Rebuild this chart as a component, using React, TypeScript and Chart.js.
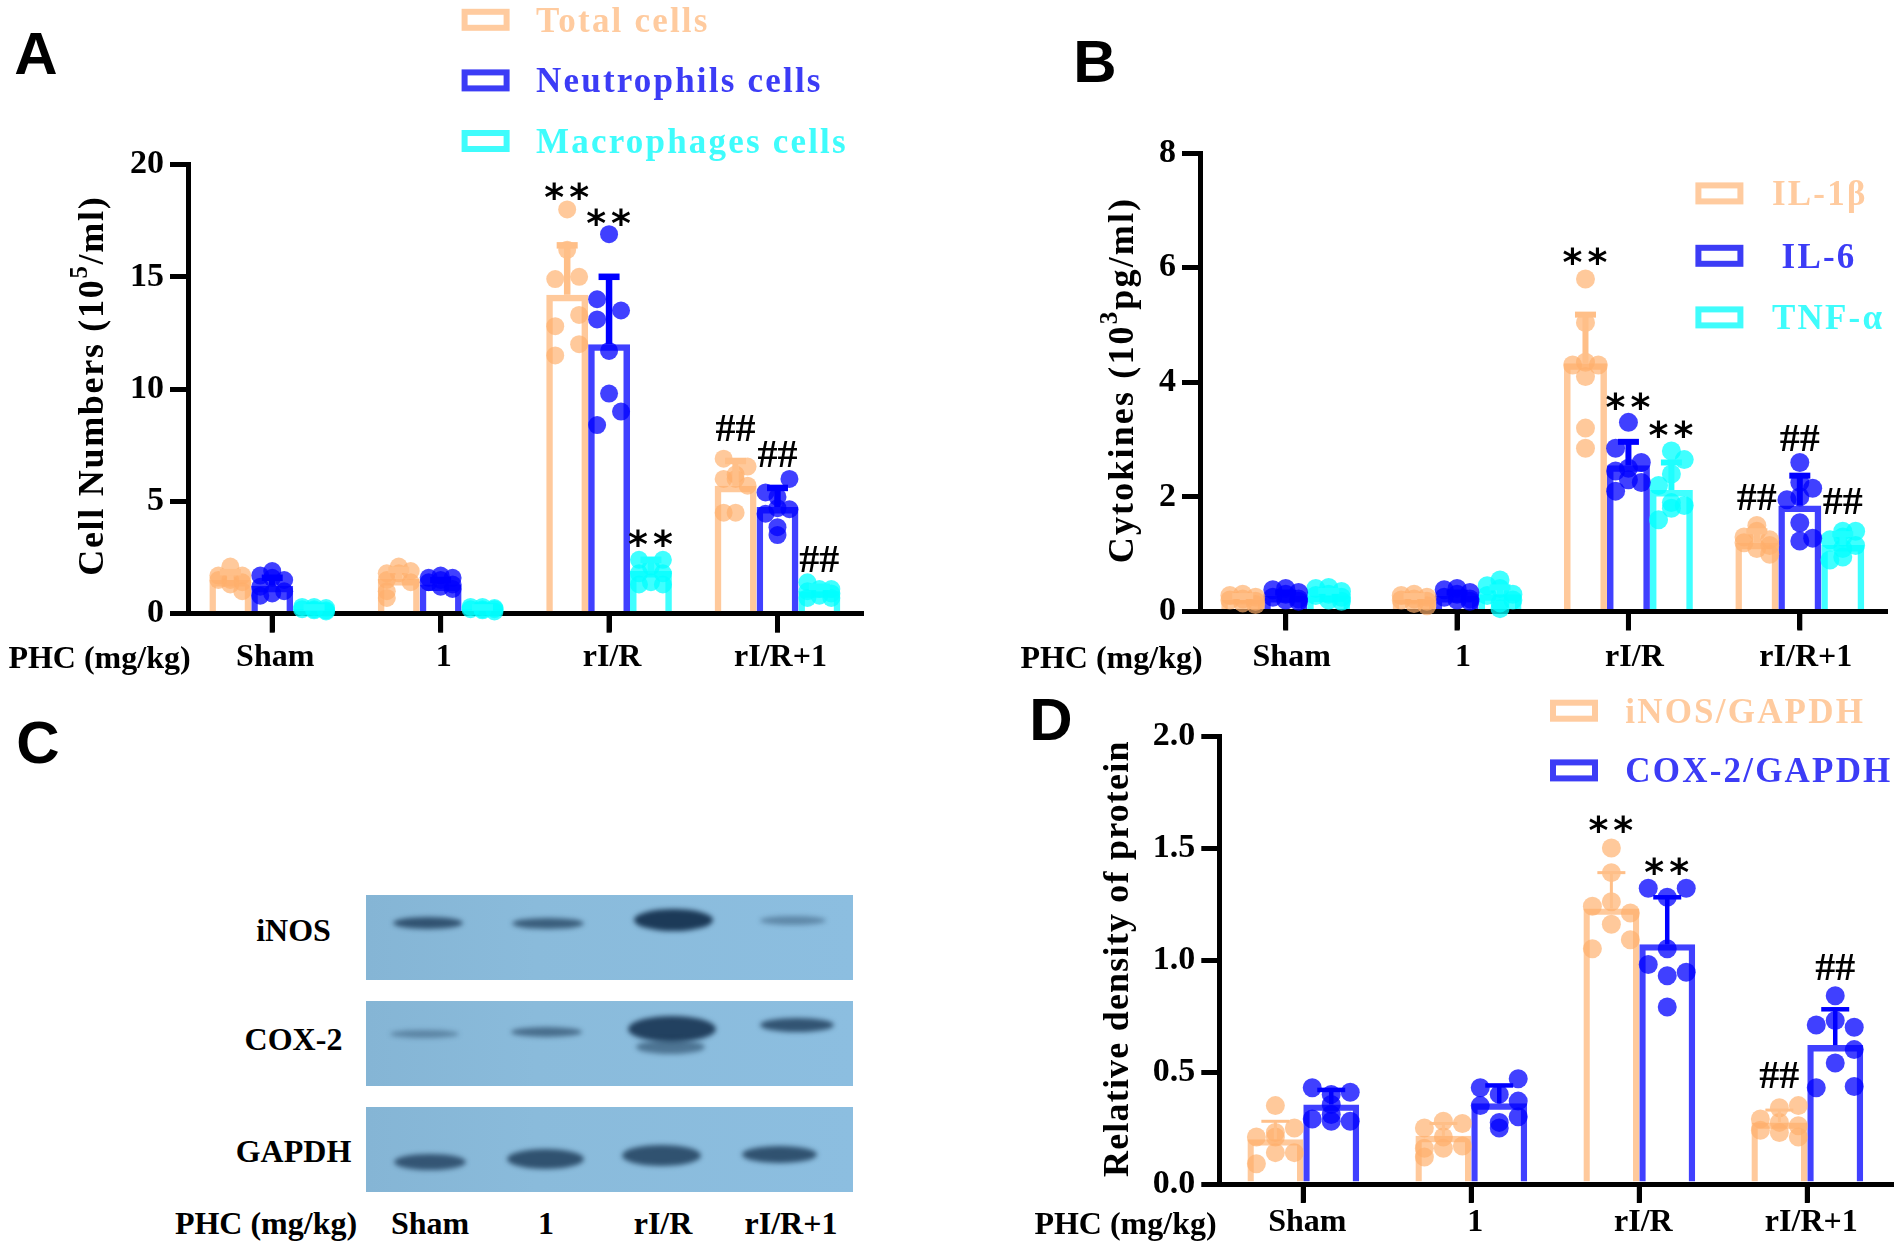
import { useEffect, useRef } from "react";
import { Chart, registerables } from "chart.js";

Chart.register(...registerables);

const SERIF = '"Liberation Serif"';
const ORANGE = "rgba(255,176,108,0.68)";
const BLUE = "rgba(0,0,255,0.75)";
const CYAN = "rgba(0,255,255,0.75)";
const ORANGE_TEXT = "#ffcb9f";
const BLUE_TEXT = "#3c3cf6";
const CYAN_TEXT = "#3ffcfc";
const ORANGE_ERR = "#ffbf88";
const BLUE_ERR = "#0000ff";
const CYAN_ERR = "#1effff";

const groups = ["Sham", "1", "rI/R", "rI/R+1"];
const looseLanes = [0, -1, 1, 0, -1, 1, 0, 1];

// Panel A, 10^5 cells per ml
const totalMean = [1.5, 1.55, 14.2, 5.7];
const totalUpper = [1.85, 1.95, 16.4, 6.8];
const totalPoints = [
  [2.1, 1.7, 1.7, 1.5, 1.5, 1.4, 1.3, 1.0],
  [2.1, 1.8, 1.9, 1.8, 1.5, 1.4, 1.0, 0.7],
  [18.0, 16.2, 14.9, 15.0, 13.3, 12.8, 12.0, 11.5],
  [6.9, 6.55, 6.0, 6.2, 5.7, 6.0, 4.5, 4.5],
];
const totalLanes = [looseLanes, [0, -1, 1, 0, -1, 1, -1, -1], [0, 0, -1, 1, 1, -1, 1, -1], [-1, 1, -1, 0, 1, 0, -1, 0]];
const neutroMean = [1.25, 1.3, 12.0, 4.75];
const neutroUpper = [1.6, 1.5, 15.0, 5.6];
const neutroPoints = [
  [1.9, 1.7, 1.6, 1.5, 1.2, 1.0, 0.9, 0.8],
  [1.7, 1.6, 1.6, 1.5, 1.4, 1.3, 1.2, 1.1],
  [16.9, 14.0, 13.5, 13.1, 11.7, 9.8, 9.0, 8.4],
  [6.0, 5.4, 5.2, 4.65, 4.45, 4.7, 3.85, 3.5],
];
const neutroLanes = [[0, -1, 0, 1, -1, 1, 0, -1], looseLanes, [0, -1, 1, -1, 0, 0, 1, -1], [1, -1, 0, 1, -1, 0, 0, 0]];
const macroMean = [0.2, 0.2, 1.9, 1.0];
const macroUpper = [0.28, 0.28, 2.4, 1.2];
const macroPoints = [
  [0.3, 0.3, 0.25, 0.2, 0.2, 0.15, 0.15, 0.1],
  [0.3, 0.3, 0.25, 0.2, 0.2, 0.2, 0.15, 0.1],
  [2.4, 2.4, 2.1, 1.8, 1.8, 1.4, 1.3, 1.3],
  [1.4, 1.1, 1.1, 1.0, 0.9, 0.8, 0.7, 0.7],
];
const macroLanes = [looseLanes, looseLanes, [-1, 1, 0, -1, 1, 0, -1, 1], [-1, 0, 1, -1, 1, 0, -1, 1]];

// Panel B, 10^3 pg per ml
const il1Mean = [0.2, 0.2, 4.33, 1.2];
const il1Upper = [0.27, 0.27, 5.18, 1.4];
const il1Points = [
  [0.3, 0.28, 0.25, 0.22, 0.2, 0.18, 0.15, 0.12],
  [0.3, 0.28, 0.25, 0.22, 0.2, 0.18, 0.14, 0.1],
  [5.8, 5.04, 4.3, 4.35, 4.3, 4.1, 3.2, 2.85],
  [1.5, 1.4, 1.3, 1.25, 1.2, 1.15, 1.1, 1.0],
];
const il1Lanes = [looseLanes, looseLanes, [0, 0, -1, 0, 1, 0, 0, 0], [0, 0, -1, 1, -1, 1, 0, 1]];
const il6Mean = [0.27, 0.27, 2.55, 1.85];
const il6Upper = [0.33, 0.33, 2.96, 2.37];
const il6Points = [
  [0.4, 0.38, 0.33, 0.3, 0.25, 0.22, 0.2, 0.18],
  [0.4, 0.38, 0.33, 0.3, 0.25, 0.22, 0.2, 0.18],
  [3.3, 2.85, 2.6, 2.5, 2.45, 2.3, 2.25, 2.1],
  [2.6, 2.25, 2.15, 2.0, 1.95, 1.55, 1.28, 1.23],
];
const il6Lanes = [looseLanes, looseLanes, [0, -1, 1, 0, -1, 0, 1, -1], [0, 0, 1, 0, -1, 0, 1, 0]];
const tnfMean = [0.28, 0.3, 2.12, 1.16];
const tnfUpper = [0.36, 0.42, 2.6, 1.35];
const tnfPoints = [
  [0.42, 0.4, 0.35, 0.3, 0.28, 0.25, 0.2, 0.18],
  [0.55, 0.45, 0.4, 0.3, 0.28, 0.2, 0.15, 0.05],
  [2.8, 2.65, 2.4, 2.2, 1.9, 1.85, 1.8, 1.6],
  [1.4, 1.4, 1.3, 1.25, 1.15, 1.1, 0.95, 0.9],
];
const tnfLanes = [looseLanes, [0, -1, 0, 1, -1, 1, 0, 0], [0, 1, 0, -1, 0, 1, 0, -1], [0, 1, 0, -1, 1, 0, 0, -1]];

// Panel D, relative density
const inosMean = [0.2, 0.215, 1.23, 0.275];
const inosUpper = [0.28, 0.27, 1.39, 0.33];
const inosPoints = [
  [0.35, 0.25, 0.23, 0.21, 0.21, 0.14, 0.14, 0.09],
  [0.28, 0.27, 0.25, 0.21, 0.17, 0.16, 0.16, 0.12],
  [1.5, 1.39, 1.26, 1.24, 1.21, 1.16, 1.09, 1.05],
  [0.35, 0.34, 0.29, 0.275, 0.26, 0.24, 0.23, 0.21],
];
const inosLanes = [[0, 1, 0, -1, 0, 1, 0, -1], [0, 1, -1, 0, 1, -1, 0, -1], [0, 0, 0, -1, 1, 0, 1, -1], [1, 0, -1, 0, 1, -1, 0, 1]];
const coxMean = [0.355, 0.36, 1.07, 0.62];
const coxUpper = [0.42, 0.44, 1.28, 0.78];
const coxPoints = [
  [0.43, 0.41, 0.4, 0.355, 0.31, 0.29, 0.28, 0.28],
  [0.47, 0.43, 0.4, 0.37, 0.35, 0.3, 0.275, 0.25],
  [1.32, 1.32, 1.28, 1.05, 0.98, 0.945, 0.93, 0.79],
  [0.84, 0.73, 0.71, 0.7, 0.6, 0.54, 0.435, 0.43],
];
const coxLanes = [[-1, 1, 0, 0, 0, -1, 0, 1], [1, -1, 0, 1, -1, 1, 0, 0], [-1, 1, 0, 0, -1, 1, 0, 0], [0, 0, -1, 1, 1, 0, 1, -1]];

// significance marks: [series, group, height on the value axis, text]
const marksA = [
  [0, 2, 18.8, "**"],
  [1, 2, 17.65, "**"],
  [2, 2, 3.37, "**"],
  [0, 3, 8.27, "##"],
  [1, 3, 7.13, "##"],
  [2, 3, 2.43, "##"],
];
const marksB = [
  [0, 2, 6.2, "**"],
  [1, 2, 3.68, "**"],
  [2, 2, 3.18, "**"],
  [0, 3, 2.0, "##"],
  [1, 3, 3.02, "##"],
  [2, 3, 1.93, "##"],
];
const marksD = [
  [0, 2, 1.605, "**"],
  [1, 2, 1.42, "**"],
  [0, 3, 0.486, "##"],
  [1, 3, 0.97, "##"],
];

const panels = [
  {
    left: 0, top: 0, width: 960, height: 680,
    plotLeft: 188, plotRight: 861.7, plotTop: 164.5, plotBottom: 613.7,
    groupWidth: 0.746, laneStep: 0.071, radius: 9, errWidth: 6.5, capWidth: 21, barBorder: 6.5,
    yMax: 20, yStep: 5, decimals: 0, labelOffset: 3, tickPad: 7,
    title: ["Cell Numbers (10", "5", "/ml)"], titleX: 93.7, titleY: 385.7, titleSpacing: 1.7,
    marks: marksA,
    series: [
      { label: "Total cells", mean: totalMean, upper: totalUpper, points: totalPoints, lanes: totalLanes, color: ORANGE, err: ORANGE_ERR, text: ORANGE_TEXT },
      { label: "Neutrophils cells", mean: neutroMean, upper: neutroUpper, points: neutroPoints, lanes: neutroLanes, color: BLUE, err: BLUE_ERR, text: BLUE_TEXT },
      { label: "Macrophages cells", mean: macroMean, upper: macroUpper, points: macroPoints, lanes: macroLanes, color: CYAN, err: CYAN_ERR, text: CYAN_TEXT },
    ],
    legend: { swatchX: 461.6, textX: [536, 536, 536], ys: [19.8, 80.4, 141] },
  },
  {
    left: 960, top: 0, width: 942, height: 680,
    plotLeft: 1200, plotRight: 1885.5, plotTop: 153, plotBottom: 611.5,
    groupWidth: 0.752, laneStep: 0.075, radius: 9.5, errWidth: 6, capWidth: 21, barBorder: 6.5,
    yMax: 8, yStep: 2, decimals: 0, labelOffset: 6, tickPad: 9.3,
    title: ["Cytokines (10", "3", "pg/ml)"], titleX: 1123.6, titleY: 380, titleSpacing: 2.15,
    marks: marksB,
    series: [
      { label: "IL-1β", mean: il1Mean, upper: il1Upper, points: il1Points, lanes: il1Lanes, color: ORANGE, err: ORANGE_ERR, text: ORANGE_TEXT },
      { label: "IL-6", mean: il6Mean, upper: il6Upper, points: il6Points, lanes: il6Lanes, color: BLUE, err: BLUE_ERR, text: BLUE_TEXT },
      { label: "TNF-α", mean: tnfMean, upper: tnfUpper, points: tnfPoints, lanes: tnfLanes, color: CYAN, err: CYAN_ERR, text: CYAN_TEXT },
    ],
    legend: { swatchX: 1695.4, textX: [1772, 1781.6, 1772], ys: [193.4, 255.8, 317.4] },
  },
  {
    left: 960, top: 690, width: 942, height: 560,
    plotLeft: 1219.3, plotRight: 1891.3, plotTop: 736, plotBottom: 1184,
    groupWidth: 0.665, laneStep: 0.113, radius: 9.5, errWidth: 4.5, capWidth: 28, barBorder: 6.3,
    yMax: 2, yStep: 0.5, decimals: 1, labelOffset: 4, tickPad: 1.5,
    title: ["Relative density of protein"], titleX: 1118.6, titleY: 958.7, titleSpacing: 1.2,
    marks: marksD,
    series: [
      { label: "iNOS/GAPDH", mean: inosMean, upper: inosUpper, points: inosPoints, lanes: inosLanes, color: ORANGE, err: ORANGE_ERR, text: ORANGE_TEXT, errWidth: 3 },
      { label: "COX-2/GAPDH", mean: coxMean, upper: coxUpper, points: coxPoints, lanes: coxLanes, color: BLUE, err: BLUE_ERR, text: BLUE_TEXT },
    ],
    legend: { swatchX: 1550, textX: [1625.3, 1625.3], ys: [710.7, 770.4] },
  },
];

function decorPlugin(p: any) {
  return {
    id: "panelDecor",
    beforeDatasetsDraw(chart: any) {
      // group ticks under the x axis
      const ctx = chart.ctx;
      const x = chart.scales.x;
      ctx.save();
      ctx.fillStyle = "#000";
      groups.forEach((_, i) => {
        ctx.fillRect(x.getPixelForValue(i) - 2.5, chart.chartArea.bottom, 5, 19);
      });
      ctx.restore();
    },
    afterDatasetsDraw(chart: any) {
      const ctx = chart.ctx;
      const y = chart.scales.y;
      ctx.save();

      // error bars, upper arm only
      p.series.forEach((s: any, i: number) => {
        const bars = chart.getDatasetMeta(i).data;
        const w = s.errWidth || p.errWidth;
        ctx.fillStyle = s.err;
        s.mean.forEach((m: number, j: number) => {
          const x = bars[j].x;
          const top = y.getPixelForValue(s.upper[j]);
          const base = y.getPixelForValue(m);
          ctx.fillRect(x - w / 2, top, w, base - top);
          ctx.fillRect(x - p.capWidth / 2, top - w / 2, p.capWidth, w);
        });
      });

      // ** and ## marks, centred on their ink
      ctx.fillStyle = "#000";
      ctx.textAlign = "center";
      ctx.textBaseline = "alphabetic";
      p.marks.forEach(([si, gi, value, text]: any) => {
        const x = chart.getDatasetMeta(si).data[gi].x;
        const star = text === "**";
        ctx.font = star ? 'bold 38px "DejaVu Sans"' : `bold 40px ${SERIF}`;
        ctx.letterSpacing = star ? "5px" : "0px";
        const box = ctx.measureText(text);
        const mid = (box.actualBoundingBoxAscent - box.actualBoundingBoxDescent) / 2;
        ctx.fillText(text, star ? x + 2 : x, y.getPixelForValue(value) + mid);
      });

      // legend
      ctx.textAlign = "left";
      ctx.textBaseline = "middle";
      ctx.font = `bold 35px ${SERIF}`;
      ctx.letterSpacing = "2.2px";
      p.series.forEach((s: any, i: number) => {
        const cy = p.legend.ys[i] - p.top;
        ctx.strokeStyle = s.text;
        ctx.lineWidth = 6;
        ctx.strokeRect(p.legend.swatchX - p.left + 3, cy - 8, 42, 16);
        ctx.fillStyle = s.text;
        ctx.fillText(s.label, p.legend.textX[i] - p.left, cy + 3);
      });

      // rotated value axis title, superscript drawn smaller and raised
      ctx.translate(p.titleX - p.left, p.titleY - p.top);
      ctx.rotate(-Math.PI / 2);
      ctx.textAlign = "left";
      ctx.fillStyle = "#000";
      ctx.letterSpacing = `${p.titleSpacing}px`;
      const fontFor = (k: number) => `bold ${k === 1 ? 25 : 36}px ${SERIF}`;
      const widths = p.title.map((t: string, k: number) => {
        ctx.font = fontFor(k);
        return ctx.measureText(t).width;
      });
      let cx = -widths.reduce((a: number, b: number) => a + b, 0) / 2;
      p.title.forEach((t: string, k: number) => {
        ctx.font = fontFor(k);
        ctx.fillText(t, cx, k === 1 ? -13 : 0);
        cx += widths[k];
      });
      ctx.restore();
    },
  };
}

function Panel({ p }: { p: any }) {
  const canvasRef = useRef<HTMLCanvasElement>(null);

  useEffect(() => {
    if (!canvasRef.current) return;
    const n = p.series.length;
    const barStep = p.groupWidth / n;

    const barSets = p.series.map((s: any) => ({
      type: "bar",
      label: s.label,
      data: s.mean.map((v: number, g: number) => ({ x: g, y: v })),
      backgroundColor: "transparent",
      borderColor: s.color,
      borderWidth: p.barBorder,
      borderSkipped: "start",
      categoryPercentage: p.groupWidth,
      barPercentage: 1,
      order: 2,
    }));
    const pointSets = p.series.map((s: any, i: number) => ({
      type: "scatter",
      label: s.label + " points",
      data: s.points.flatMap((vals: number[], g: number) =>
        vals.map((v, k) => ({
          x: g + (i - (n - 1) / 2) * barStep + s.lanes[g][k] * p.laneStep,
          y: v,
        }))
      ),
      backgroundColor: s.color,
      borderWidth: 0,
      pointRadius: p.radius,
      clip: false,
      order: 1,
    }));

    const tickFont = { family: SERIF, size: 34, weight: "bold" };
    const chart = new Chart(canvasRef.current, {
      type: "bar",
      data: { datasets: [...barSets, ...pointSets] },
      options: {
        responsive: false,
        animation: false,
        events: [],
        layout: {
          autoPadding: false,
          padding: { left: 0, top: p.plotTop - p.top, right: p.left + p.width - p.plotRight, bottom: 0 },
        },
        plugins: { legend: { display: false }, tooltip: { enabled: false } },
        scales: {
          x: {
            type: "linear",
            offset: false,
            min: -0.5,
            max: 3.5,
            // one tick per group, the numeric x axis only places bars and dots
            afterBuildTicks: (a: any) => { a.ticks = groups.map((_, i) => ({ value: i })); },
            afterFit: (a: any) => { a.height = p.top + p.height - p.plotBottom; },
            grid: { offset: false, drawOnChartArea: false, tickLength: 18, lineWidth: 5, color: "#000" },
            border: { display: true, color: "#000", width: 5 },
            ticks: {
              color: "#000",
              font: { ...tickFont, size: 32 },
              padding: p.tickPad,
              maxRotation: 0,
              autoSkip: false,
              labelOffset: p.labelOffset,
              callback: (v: any) => groups[v],
            },
          },
          y: {
            min: 0,
            max: p.yMax,
            afterFit: (a: any) => { a.width = p.plotLeft - p.left; },
            grid: { drawOnChartArea: false, tickLength: 18, lineWidth: 5, color: "#000" },
            border: { display: true, color: "#000", width: 5 },
            ticks: {
              stepSize: p.yStep,
              color: "#000",
              font: tickFont,
              padding: 6,
              callback: (v: any) => Number(v).toFixed(p.decimals),
            },
          },
        },
      },
      plugins: [decorPlugin(p)],
    } as any);

    return () => chart.destroy();
  }, [p]);

  return (
    <canvas
      ref={canvasRef}
      width={p.width}
      height={p.height}
      style={{ position: "absolute", left: p.left, top: p.top, width: p.width, height: p.height }}
    />
  );
}

function Text({ x, y, size = 32, font = SERIF, children }: any) {
  return (
    <div
      style={{
        position: "absolute",
        left: x,
        top: y,
        transform: "translate(-50%, -50%)",
        fontFamily: font,
        fontWeight: "bold",
        fontSize: size,
        lineHeight: 1,
        whiteSpace: "nowrap",
        color: "#000",
      }}
    >
      {children}
    </div>
  );
}

// western blot strips of panel C: [left, centre y, width, height, strength]
const blotRows = [
  { label: "iNOS", labelY: 930, top: 895, bands: [[393, 923, 70, 12, 0.8], [512, 923, 72, 11, 0.72], [634, 920, 79, 22, 1], [760, 920, 66, 9, 0.4]] },
  { label: "COX-2", labelY: 1039, top: 1001, bands: [[390, 1034, 69, 8, 0.4], [511, 1032, 71, 10, 0.6], [628, 1029, 88, 26, 0.95], [636, 1047, 69, 14, 0.55], [760, 1025, 74, 14, 0.8]] },
  { label: "GAPDH", labelY: 1151, top: 1107, bands: [[394, 1162, 72, 16, 0.78], [507, 1159, 77, 20, 0.82], [622, 1155, 79, 21, 0.82], [742, 1154, 75, 17, 0.82]] },
];
const blotLabels = [[430, "Sham"], [546, "1"], [663, "rI/R"], [791, "rI/R+1"]];

function Blot() {
  return (
    <>
      {blotRows.map((row) => (
        <div key={row.label}>
          <Text x={293.5} y={row.labelY}>{row.label}</Text>
          <div
            style={{
              position: "absolute",
              left: 366,
              top: row.top,
              width: 487,
              height: 85,
              overflow: "hidden",
              background: "linear-gradient(90deg, #85b5d5 0%, #8abbdb 35%, #8cbee0 100%)",
            }}
          >
            {row.bands.map(([x, cy, w, h, a], i) => (
              <div
                key={i}
                style={{
                  position: "absolute",
                  left: x - 366,
                  top: cy - h / 2 - row.top,
                  width: w,
                  height: h,
                  borderRadius: "50%",
                  background: `rgba(28,58,88,${a})`,
                  filter: "blur(2.5px)",
                }}
              />
            ))}
          </div>
        </div>
      ))}
      {blotLabels.map(([x, t]) => (
        <Text key={t} x={x} y={1223}>{t}</Text>
      ))}
    </>
  );
}

export default function App() {
  const sans = '"Liberation Sans"';
  return (
    <div style={{ position: "absolute", left: 0, top: 0, width: 1902, height: 1250, background: "#fff", overflow: "hidden" }}>
      {panels.map((p) => (
        <Panel key={p.title[0]} p={p} />
      ))}
      <Blot />
      <Text x={36} y={54} size={60} font={sans}>A</Text>
      <Text x={1095} y={61.5} size={60} font={sans}>B</Text>
      <Text x={38} y={743} size={60} font={sans}>C</Text>
      <Text x={1051} y={720} size={60} font={sans}>D</Text>
      <Text x={99.5} y={656.5}>PHC (mg/kg)</Text>
      <Text x={1111.5} y={656.5}>PHC (mg/kg)</Text>
      <Text x={266} y={1223}>PHC (mg/kg)</Text>
      <Text x={1125.5} y={1223}>PHC (mg/kg)</Text>
    </div>
  );
}
